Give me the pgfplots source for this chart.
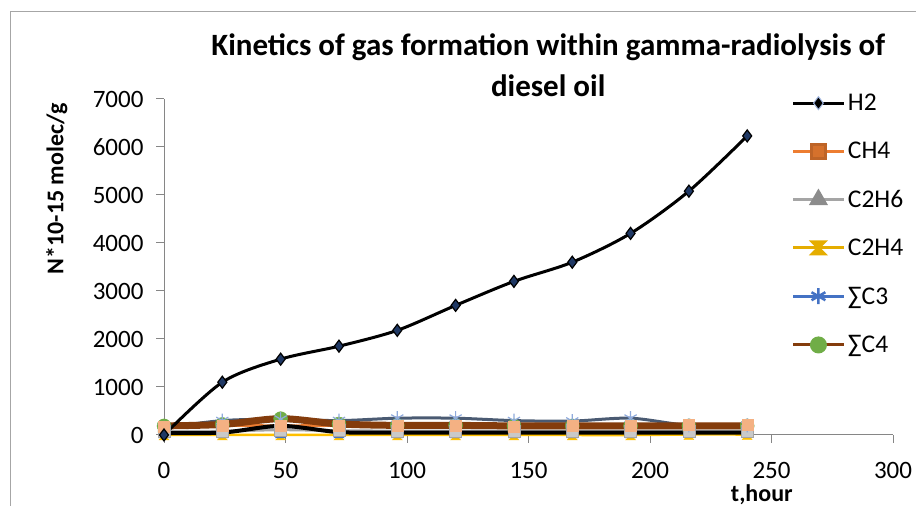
\documentclass[border=0pt]{standalone}
\usepackage{pgfplots}
\pgfplotsset{compat=1.18}
\usepackage{pgfplotstable}
\usepackage{fontspec}
\setmainfont{Carlito}
\definecolor{cCH4}{HTML}{ED7D31}
\definecolor{cCH4m}{HTML}{F4B183}
\definecolor{cC2H6}{HTML}{A5A5A5}
\definecolor{cC2H4}{HTML}{FFC000}
\definecolor{cC3}{HTML}{4472C4}
\definecolor{cC3line}{HTML}{4A5A72}
\definecolor{cC4}{HTML}{843C0C}
\definecolor{cC4m}{HTML}{70AD47}
\definecolor{frame}{HTML}{A6A6A6}
\definecolor{axisgray}{HTML}{868686}
\definecolor{h2fill}{HTML}{1F3864}
\pgfdeclareplotmark{hourglass}{%
  \pgfpathmoveto{\pgfqpoint{-\pgfplotmarksize}{\pgfplotmarksize}}%
  \pgfpathlineto{\pgfqpoint{\pgfplotmarksize}{\pgfplotmarksize}}%
  \pgfpathlineto{\pgfqpoint{-\pgfplotmarksize}{-\pgfplotmarksize}}%
  \pgfpathlineto{\pgfqpoint{\pgfplotmarksize}{-\pgfplotmarksize}}%
  \pgfpathclose
  \pgfusepathqfillstroke}
\pgfplotstableread{
t    H2    CH4  C2H6  C2H4  C3   C4   extra
0    0     180  70    0     150  190  40
24   1100  200  80    0     300  220  50
48   1580  190  110   0     330  340  190
72   1850  200  90    0     300  230  60
96   2180  200  80    0     350  200  50
120  2700  200  80    0     350  200  50
144  3200  180  80    0     300  190  50
168  3600  190  80    0     290  190  50
192  4200  190  80    0     350  190  50
216  5080  220  80    10    200  190  50
240  6230  220  80    10    200  190  50
}\datatable
\begin{document}
\begin{tikzpicture}[x=1bp,y=1bp]
\useasboundingbox (0,0) rectangle (916,506);
\draw[frame, line width=1bp] (10,-2) -- (10,494) -- (918,494);
\begin{axis}[
  at={(164bp,71bp)}, anchor=south west,
  scale only axis, width=729bp, height=336bp,
  xmin=0, xmax=300, ymin=0, ymax=7000,
  xtick={0,50,...,300}, ytick={0,1000,...,7000},
  xticklabels={0,50,100,150,200,\raisebox{5bp}{250},300},
  axis x line*=bottom, axis y line*=left,
  axis line style={axisgray, line width=1bp},
  tick align=outside, major tick length=8bp,
  tick style={axisgray, line width=1bp},
  /pgf/number format/assume math mode=true,
  /pgf/number format/set thousands separator={},
  tick label style={font=\fontsize{25bp}{28bp}\selectfont, black},
  yticklabel style={xshift=-9bp},
  xticklabel style={yshift=-16bp},
  clip=false,
  title={Kinetics of gas formation within gamma-radiolysis of\\diesel oil},
  title style={at={(rel axis cs:0.527,1.083)}, anchor=center, align=center,
     font=\fontsize{31bp}{41bp}\selectfont\bfseries},
  xlabel={t,hour},
  xlabel style={at={(rel axis cs:0.820,-0.178)}, anchor=center,
     font=\fontsize{24bp}{28bp}\selectfont\bfseries},
  ylabel={N*10-15 molec/g},
  ylabel style={at={(rel axis cs:-0.147,0.732)}, anchor=center,
     font=\fontsize{24bp}{28bp}\selectfont\bfseries},
  legend cell align=left,
  legend style={at={(rel axis cs:0.857,1.027)}, anchor=north west, draw=none, fill=none,
     font=\fontsize{25.5bp}{28bp}\selectfont, row sep=26bp,
     /tikz/every even column/.append style={column sep=9bp}},
  legend image code/.code={%
     \draw[#1] (0bp,0bp) -- (25bp,0bp) -- (51bp,0bp);
     \draw[#1, only marks] plot coordinates {(25bp,0bp)};},
]
% lines
\addplot[forget plot, cCH4, line width=3bp, smooth, tension=0.5] table[x=t,y=CH4]{\datatable};
\addplot[forget plot, cC2H6, line width=3bp, smooth, tension=0.5] table[x=t,y=C2H6]{\datatable};
\addplot[forget plot, cC2H4, line width=2.5bp, smooth, tension=0.5] table[x=t,y=C2H4]{\datatable};
\addplot[forget plot, black, line width=4bp, smooth, tension=0.5] table[x=t,y=extra]{\datatable};
\addplot[forget plot, only marks, mark=*, mark size=7bp, draw=cC4m, fill=cC4m] table[x=t,y=C4]{\datatable};
\addplot[forget plot, cC3line, line width=3bp, smooth, tension=0.5] table[x=t,y=C3]{\datatable};
\addplot[forget plot, cC4, line width=7bp, smooth, tension=0.5] table[x=t,y=C4]{\datatable};
\addplot[forget plot, black, line width=3bp, smooth, tension=0.5] table[x=t,y=H2]{\datatable};
% markers
\addplot[forget plot, only marks, mark=hourglass, mark size=5bp, draw=cC2H4, fill=cC2H4] table[x=t,y=C2H4]{\datatable};
\addplot[forget plot, only marks, mark=triangle*, mark size=6bp, draw=cC3, fill=cC3] table[x=t,y=C2H4]{\datatable};
\addplot[forget plot, only marks, mark=*, mark size=6bp, draw=cC4m, fill=cC4m] table[x=t,y=C2H6]{\datatable};
\addplot[forget plot, only marks, mark=square*, mark size=6bp, draw=cC2H6, fill=cC2H6!60] table[x=t,y=C2H6]{\datatable};
\addplot[forget plot, only marks, mark=asterisk, mark size=7bp, draw=cC3!60, line width=1.2bp] table[x=t,y=C3]{\datatable};
\addplot[forget plot, only marks, mark=square*, mark size=5.5bp, draw=cCH4m, fill=cCH4m] table[x=t,y=CH4]{\datatable};
\addplot[forget plot, only marks, mark=diamond*, mark size=6bp, draw=black, fill=h2fill, line width=1.2bp] table[x=t,y=H2]{\datatable};
% legend
\addlegendimage{black, line width=3bp, mark=diamond*, mark size=6.5bp, mark options={draw=cC3!50, fill=black, line width=1bp}}
\addlegendentry{H2}
\addlegendimage{cCH4, line width=3bp, mark=square*, mark size=7bp, mark options={draw=cCH4!80!black, fill=cCH4!90!black}}
\addlegendentry{CH4}
\addlegendimage{cC2H6, line width=3bp, mark=triangle*, mark size=8bp, mark options={draw=cC2H6!85!black, fill=cC2H6!85!black}}
\addlegendentry{C2H6}
\addlegendimage{cC2H4!90!black, line width=3bp, mark=hourglass, mark size=6bp, mark options={draw=cC2H4!90!black, fill=cC2H4!90!black}}
\addlegendentry{C2H4}
\addlegendimage{cC3, line width=3bp, mark=asterisk, mark size=8bp, mark options={draw=cC3, line width=2.5bp}}
\addlegendentry{∑C3}
\addlegendimage{cC4, line width=3bp, mark=*, mark size=7bp, mark options={draw=cC4m, fill=cC4m}}
\addlegendentry{∑C4}
\end{axis}
\end{tikzpicture}
\end{document}
